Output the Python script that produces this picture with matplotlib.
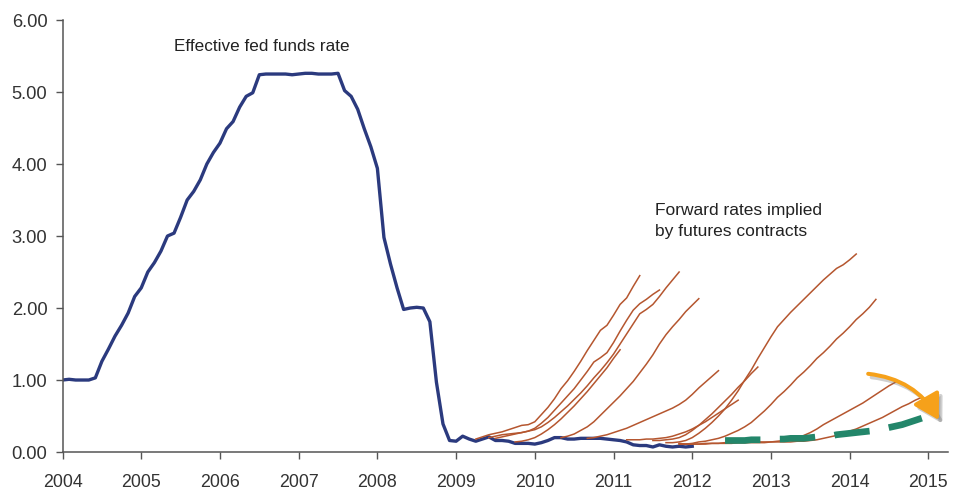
import matplotlib
matplotlib.use("Agg")
import matplotlib.pyplot as plt
import numpy as np
from matplotlib.patches import FancyArrowPatch
from matplotlib.transforms import ScaledTranslation

plt.rcParams['font.family'] = ['Liberation Sans', 'DejaVu Sans']

# ---------------- data ----------------
# Effective fed funds rate, monthly from Jan 2004
fed_start = 2004.0
fed_funds = [
    1.00, 1.01, 1.00, 1.00, 1.00, 1.03, 1.26, 1.43, 1.61, 1.76, 1.93, 2.16,
    2.28, 2.50, 2.63, 2.79, 3.00, 3.04, 3.26, 3.50, 3.62, 3.78, 4.00, 4.16,
    4.29, 4.49, 4.59, 4.79, 4.94, 4.99, 5.24, 5.25, 5.25, 5.25, 5.25, 5.24,
    5.25, 5.26, 5.26, 5.25, 5.25, 5.25, 5.26, 5.02, 4.94, 4.76, 4.49, 4.24,
    3.94, 2.98, 2.61, 2.28, 1.98, 2.00, 2.01, 2.00, 1.81, 0.97, 0.39, 0.16,
    0.15, 0.22, 0.18, 0.15, 0.18, 0.21, 0.16, 0.16, 0.15, 0.12, 0.12, 0.12,
    0.11, 0.13, 0.16, 0.20, 0.20, 0.18, 0.18, 0.19, 0.19, 0.19, 0.19, 0.18,
    0.17, 0.16, 0.14, 0.10, 0.09, 0.09, 0.07, 0.10, 0.08, 0.07, 0.08, 0.07,
    0.08,
]

# Forward curves implied by futures (monthly), each with its start date
fwd_a_start = 2009 + 3 / 12
fwd_a = [0.18, 0.21, 0.24, 0.26, 0.28, 0.31, 0.34, 0.37, 0.38, 0.42, 0.52, 0.62,
         0.74, 0.88, 0.99, 1.12, 1.26, 1.41, 1.55, 1.69, 1.76, 1.90, 2.05, 2.14,
         2.30, 2.45]
fwd_b_start = 2009 + 5 / 12
fwd_b = [0.20, 0.22, 0.24, 0.25, 0.26, 0.27, 0.29, 0.31, 0.35, 0.41, 0.48, 0.56,
         0.64, 0.73, 0.82, 0.92, 1.03, 1.13, 1.24, 1.36, 1.50, 1.64, 1.78, 1.92,
         1.98, 2.05, 2.16, 2.28, 2.39, 2.50]
fwd_c_start = 2009 + 6 / 12
fwd_c = [0.19, 0.21, 0.23, 0.25, 0.27, 0.29, 0.33, 0.40, 0.48, 0.58, 0.68, 0.78,
         0.88, 1.00, 1.12, 1.25, 1.31, 1.38, 1.52, 1.68, 1.83, 1.97, 2.06, 2.12,
         2.19, 2.25]
fwd_d_start = 2009 + 9 / 12
fwd_d = [0.14, 0.15, 0.17, 0.20, 0.25, 0.31, 0.38, 0.46, 0.55, 0.64, 0.74, 0.84,
         0.95, 1.06, 1.17, 1.30, 1.42]
fwd_e_start = 2010 + 4 / 12
fwd_e = [0.20, 0.22, 0.25, 0.30, 0.35, 0.42, 0.51, 0.60, 0.69, 0.78, 0.88, 0.98,
         1.10, 1.22, 1.35, 1.50, 1.63, 1.74, 1.84, 1.95, 2.04, 2.13]
fwd_f_start = 2010 + 8 / 12
fwd_f = [0.19, 0.20, 0.22, 0.24, 0.27, 0.30, 0.33, 0.37, 0.41, 0.45, 0.49, 0.53,
         0.57, 0.61, 0.66, 0.72, 0.80, 0.89, 0.97, 1.05, 1.13]
fwd_g_start = 2011 + 2 / 12
fwd_g = [0.17, 0.17, 0.17, 0.18, 0.18, 0.19, 0.20, 0.22, 0.25, 0.28, 0.32, 0.37,
         0.42, 0.48, 0.54, 0.60, 0.66, 0.72]
fwd_h_start = 2011 + 6 / 12
fwd_h = [0.16, 0.16, 0.17, 0.18, 0.20, 0.24, 0.30, 0.37, 0.45, 0.53, 0.62, 0.71,
         0.80, 0.90, 0.99, 1.09, 1.18]
fwd_i_start = 2011 + 8 / 12
fwd_i = [0.13, 0.13, 0.14, 0.16, 0.20, 0.26, 0.33, 0.41, 0.50, 0.60, 0.72, 0.85,
         1.00, 1.14, 1.30, 1.45, 1.60, 1.74, 1.84, 1.94, 2.03, 2.12, 2.21, 2.30,
         2.39, 2.47, 2.55, 2.60, 2.67, 2.75]
fwd_j_start = 2011 + 10 / 12
fwd_j = [0.12, 0.11, 0.12, 0.14, 0.15, 0.17, 0.19, 0.22, 0.26, 0.30, 0.35, 0.41,
         0.49, 0.57, 0.66, 0.76, 0.84, 0.93, 1.03, 1.11, 1.20, 1.30, 1.38, 1.47,
         1.57, 1.65, 1.74, 1.84, 1.92, 2.01, 2.12]
fwd_k_start = 2011 + 10 / 12
fwd_k = [0.11, 0.11, 0.11, 0.11, 0.12, 0.12, 0.12, 0.13, 0.13, 0.13, 0.13, 0.14,
         0.14, 0.14, 0.14, 0.15, 0.16, 0.18, 0.20, 0.23, 0.27, 0.32, 0.38, 0.43,
         0.48, 0.53, 0.58, 0.63, 0.68, 0.74, 0.80, 0.86, 0.92, 0.97]
fwd_l_start = 2011 + 10 / 12
fwd_l = [0.11, 0.11, 0.11, 0.11, 0.11, 0.12, 0.12, 0.12, 0.12, 0.13, 0.13, 0.13,
         0.13, 0.13, 0.14, 0.14, 0.14, 0.14, 0.15, 0.15, 0.16, 0.17, 0.19, 0.21,
         0.23, 0.26, 0.29, 0.32, 0.36, 0.40, 0.44, 0.48, 0.53, 0.58, 0.63, 0.67,
         0.72, 0.76]

forward_curves = [
    (fwd_a_start, fwd_a), (fwd_b_start, fwd_b), (fwd_c_start, fwd_c),
    (fwd_d_start, fwd_d), (fwd_e_start, fwd_e), (fwd_f_start, fwd_f),
    (fwd_g_start, fwd_g), (fwd_h_start, fwd_h), (fwd_i_start, fwd_i),
    (fwd_j_start, fwd_j), (fwd_k_start, fwd_k), (fwd_l_start, fwd_l),
]

# Latest forward curve (green dashed), monthly from Jun 2012
latest_start = 2012 + 5 / 12
latest_fwd = [0.16, 0.16, 0.16, 0.16, 0.17, 0.17, 0.17,
              0.18, 0.18, 0.18, 0.19, 0.19, 0.19, 0.20, 0.21, 0.21, 0.22, 0.24, 0.25,
              0.26, 0.27, 0.28, 0.29, 0.30, 0.32, 0.34, 0.36, 0.38, 0.41, 0.44, 0.47]

year_ticks = [2004, 2005, 2006, 2007, 2008, 2009, 2010, 2011, 2012, 2013, 2014, 2015]
y_ticks = [0, 1, 2, 3, 4, 5, 6]
y_tick_labels = ["0.00", "1.00", "2.00", "3.00", "4.00", "5.00", "6.00"]

label_fed = "Effective fed funds rate"
label_fwd = "Forward rates implied\nby futures contracts"

# annotation anchors (data coords)
fed_label_pos = (2006.53, 5.63)
fwd_label_pos = (2011.53, 3.21)
arrow_from = (2014.2, 1.09)
arrow_to = (2015.15, 0.41)

# ---------------- plot ----------------
BLUE = "#2B3A7E"
BROWN = "#B5562F"
GREEN = "#23866A"
ORANGE = "#F6A11A"

fig = plt.figure(figsize=(9.68, 4.91), dpi=100)
ax = fig.add_axes([0.0646, 0.0794, 0.9148, 0.8798])

def months(start, n):
    return start + np.arange(n) / 12.0

ax.plot(months(fed_start, len(fed_funds)), fed_funds, color=BLUE, lw=2.4,
        solid_joinstyle="round", zorder=2)

for start, vals in forward_curves:
    ax.plot(months(start, len(vals)), vals, color=BROWN, lw=1.1, zorder=3)

lw_g = 4.8
ax.plot(months(latest_start, len(latest_fwd)), latest_fwd, color=GREEN, lw=lw_g,
        dashes=(25.5 / lw_g, 14.0 / lw_g), dash_capstyle="butt", zorder=4)

arrow_kw = dict(connectionstyle="arc3,rad=-0.27",
                arrowstyle="-|>,head_length=0.6,head_width=0.35",
                mutation_scale=25, lw=2.9)
shadow_tf = ax.transData + ScaledTranslation(2.5 / 72, -2.5 / 72, fig.dpi_scale_trans)
shadow = FancyArrowPatch(arrow_from, arrow_to, transform=shadow_tf,
                         color="#777777", alpha=0.35, zorder=4.9, **arrow_kw)
ax.add_patch(shadow)
arrow = FancyArrowPatch(arrow_from, arrow_to, color=ORANGE, zorder=5, **arrow_kw)
ax.add_patch(arrow)

ax.text(*fed_label_pos, label_fed, ha="center", va="center", fontsize=12.3,
        color="#222222")
ax.text(*fwd_label_pos, label_fwd, ha="left", va="center", fontsize=12.5,
        color="#222222", linespacing=1.45)

ax.set_xlim(2004, 2015.25)
ax.set_ylim(0, 6)
ax.set_xticks(year_ticks)
ax.set_xticklabels([str(y) for y in year_ticks])
ax.set_yticks(y_ticks)
ax.set_yticklabels(y_tick_labels)

for s in ["top", "right"]:
    ax.spines[s].set_visible(False)
for s in ["left", "bottom"]:
    ax.spines[s].set_color("#555555")
    ax.spines[s].set_linewidth(1.1)

ax.tick_params(axis="x", direction="out", length=5, width=1.0, color="#555555",
               labelsize=12.8, labelcolor="#333333", pad=11)
ax.tick_params(axis="y", direction="out", length=5, width=1.0, color="#555555",
               labelsize=13.2, labelcolor="#333333", pad=6)

fig.savefig("out.png", dpi=100, facecolor="white")
